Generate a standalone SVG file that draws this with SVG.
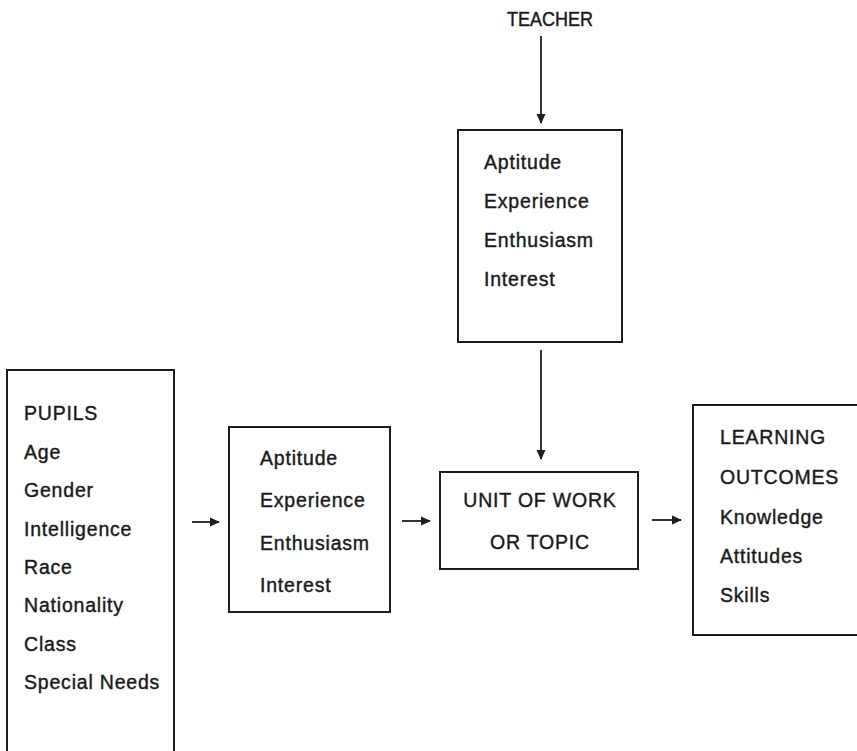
<svg xmlns="http://www.w3.org/2000/svg" width="857" height="751" viewBox="0 0 857 751">
  <style>
    .box { fill: none; stroke: #1e1e1e; stroke-width: 2; }
    .lbl { font-family: "Liberation Sans", Arial, Helvetica, sans-serif; font-size: 19.5px; letter-spacing: 0.8px; fill: #1a1a1a; stroke: #1a1a1a; stroke-width: 0.4; }
    .link { fill: none; stroke: #1e1e1e; stroke-width: 1.8; }
  </style>
  <defs>
    <marker id="arrow" viewBox="0 0 10 10" refX="9" refY="5" markerWidth="11" markerHeight="10" markerUnits="userSpaceOnUse" orient="auto">
      <path d="M0,0.5 L10,5 L0,9.5 Z" fill="#1e1e1e"/>
    </marker>
  </defs>
  <rect width="857" height="751" fill="#ffffff"/>

  <!-- connectors -->
  <g id="connectors">
    <line class="link" x1="541" y1="36" x2="541" y2="123" marker-end="url(#arrow)"/>
    <line class="link" x1="541" y1="350" x2="541" y2="459" marker-end="url(#arrow)"/>
    <line class="link" x1="192" y1="522" x2="219" y2="522" marker-end="url(#arrow)"/>
    <line class="link" x1="402" y1="521" x2="430" y2="521" marker-end="url(#arrow)"/>
    <line class="link" x1="652" y1="520" x2="681" y2="520" marker-end="url(#arrow)"/>
  </g>

  <!-- teacher heading -->
  <g id="teacher">
    <text class="lbl" x="507" y="26" textLength="86" lengthAdjust="spacingAndGlyphs" style="letter-spacing:0">TEACHER</text>
  </g>

  <!-- teacher qualities -->
  <g id="teacher-qualities">
    <rect class="box" x="458" y="130" width="164" height="212"/>
    <text class="lbl" x="484" y="169">Aptitude</text>
    <text class="lbl" x="484" y="208">Experience</text>
    <text class="lbl" x="484" y="247">Enthusiasm</text>
    <text class="lbl" x="484" y="286">Interest</text>
  </g>

  <!-- pupils -->
  <g id="pupils">
    <path class="box" d="M7,752 V370 H174 V752"/>
    <text class="lbl" x="24" y="420">PUPILS</text>
    <text class="lbl" x="24" y="459">Age</text>
    <text class="lbl" x="24" y="497">Gender</text>
    <text class="lbl" x="24" y="536">Intelligence</text>
    <text class="lbl" x="24" y="574">Race</text>
    <text class="lbl" x="24" y="612">Nationality</text>
    <text class="lbl" x="24" y="651">Class</text>
    <text class="lbl" x="24" y="689">Special Needs</text>
  </g>

  <!-- pupil qualities -->
  <g id="pupil-qualities">
    <rect class="box" x="229" y="427" width="161" height="185"/>
    <text class="lbl" x="260" y="465">Aptitude</text>
    <text class="lbl" x="260" y="507">Experience</text>
    <text class="lbl" x="260" y="550">Enthusiasm</text>
    <text class="lbl" x="260" y="592">Interest</text>
  </g>

  <!-- unit of work -->
  <g id="unit">
    <rect class="box" x="440" y="472" width="198" height="97"/>
    <text class="lbl" x="540" y="507" text-anchor="middle">UNIT OF WORK</text>
    <text class="lbl" x="540" y="549" text-anchor="middle">OR TOPIC</text>
  </g>

  <!-- outcomes -->
  <g id="outcomes">
    <path class="box" d="M860,405 H693 V635 H860"/>
    <text class="lbl" x="720" y="444">LEARNING</text>
    <text class="lbl" x="720" y="484">OUTCOMES</text>
    <text class="lbl" x="720" y="524">Knowledge</text>
    <text class="lbl" x="720" y="563">Attitudes</text>
    <text class="lbl" x="720" y="602">Skills</text>
  </g>
</svg>
